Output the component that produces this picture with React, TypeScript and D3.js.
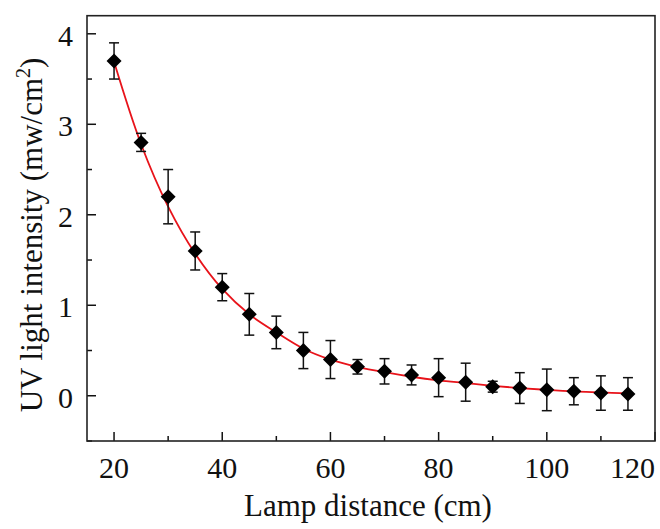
import React from "react";
import * as d3 from "d3";

const distance = [20, 25, 30, 35, 40, 45, 50, 55, 60, 65, 70, 75, 80, 85, 90, 95, 100, 105, 110, 115];
const intensity = [3.70, 2.80, 2.20, 1.60, 1.20, 0.90, 0.70, 0.50, 0.40, 0.32, 0.27, 0.23, 0.20, 0.15, 0.10, 0.085, 0.065, 0.05, 0.03, 0.02];
const errors = [0.20, 0.10, 0.30, 0.21, 0.15, 0.23, 0.18, 0.20, 0.21, 0.08, 0.14, 0.11, 0.21, 0.21, 0.06, 0.17, 0.23, 0.15, 0.19, 0.18];
const fitIntensity = [3.69, 2.78, 2.09, 1.57, 1.18, 0.90, 0.70, 0.52, 0.40, 0.32, 0.26, 0.21, 0.17, 0.14, 0.11, 0.085, 0.065, 0.048, 0.037, 0.026];

const xMajorTicks = [20, 40, 60, 80, 100, 120];
const xMinorTicks = [30, 50, 70, 90, 110];
const yMajorTicks = [0, 1, 2, 3, 4];
const yMinorTicks = [-0.5, 0.5, 1.5, 2.5, 3.5];

const W = 660, H = 529;
const left = 87, right = 655, top = 15.7, bottom = 441;
const FONT = "'Liberation Serif', 'Times New Roman', serif";

export default function App() {
  const x = d3.scaleLinear().domain([15, 120]).range([left, right]);
  const y = d3.scaleLinear().domain([-0.5, 4.2]).range([bottom, top]);

  const fitLine = d3
    .line<number>()
    .x((_, i) => x(distance[i]))
    .y((d) => y(d))
    .curve(d3.curveCatmullRom.alpha(0.5));

  const diamond = (cx: number, cy: number, r: number) =>
    `M${cx},${cy - r}L${cx + r},${cy}L${cx},${cy + r}L${cx - r},${cy}Z`;

  const majorLen = 9, minorLen = 5, cap = 5;

  return (
    <svg
      width={W}
      height={H}
      style={{ position: "absolute", left: 0, top: 0, background: "#fff" }}
      fontFamily={FONT}
    >
      <rect x={0} y={0} width={W} height={H} fill="#fff" />
      {xMajorTicks.map((t) => (
        <line key={"xM" + t} x1={x(t)} x2={x(t)} y1={bottom} y2={bottom - majorLen} stroke="#111" strokeWidth={1.5} />
      ))}
      {xMinorTicks.map((t) => (
        <line key={"xm" + t} x1={x(t)} x2={x(t)} y1={bottom} y2={bottom - minorLen} stroke="#111" strokeWidth={1.5} />
      ))}
      {yMajorTicks.map((t) => (
        <line key={"yM" + t} x1={left} x2={left + majorLen} y1={y(t)} y2={y(t)} stroke="#111" strokeWidth={1.5} />
      ))}
      {yMinorTicks.map((t) => (
        <line key={"ym" + t} x1={left} x2={left + minorLen} y1={y(t)} y2={y(t)} stroke="#111" strokeWidth={1.5} />
      ))}
      {xMajorTicks.map((t, i) => (
        <text
          key={"xl" + t}
          x={x(t)}
          y={478}
          fontSize={30}
          textAnchor={i === xMajorTicks.length - 1 ? "end" : "middle"}
          fill="#111"
        >
          {t}
        </text>
      ))}
      {yMajorTicks.map((t) => (
        <text key={"yl" + t} x={73} y={y(t) + 12} fontSize={30} textAnchor="end" fill="#111">
          {t}
        </text>
      ))}
      <path d={fitLine(fitIntensity) || ""} fill="none" stroke="#e8131a" strokeWidth={1.8} />
      {distance.map((d, i) => {
        const cx = x(d);
        const y1 = y(intensity[i] + errors[i]);
        const y2 = y(intensity[i] - errors[i]);
        return (
          <g key={"e" + d} stroke="#111" strokeWidth={1.5}>
            <line x1={cx} x2={cx} y1={y1} y2={y2} />
            <line x1={cx - cap} x2={cx + cap} y1={y1} y2={y1} />
            <line x1={cx - cap} x2={cx + cap} y1={y2} y2={y2} />
          </g>
        );
      })}
      {distance.map((d, i) => (
        <path key={"m" + d} d={diamond(x(d), y(intensity[i]), 7.5)} fill="#000" />
      ))}
      <rect x={left} y={top} width={right - left} height={bottom - top} fill="none" stroke="#222" strokeWidth={1.6} />
      <text x={368} y={516} fontSize={31} textAnchor="middle" fill="#111">
        Lamp distance (cm)
      </text>
      <text transform={`translate(42,235) rotate(-90)`} fontSize={31} textAnchor="middle" fill="#111">
        UV light intensity (mw/cm
        <tspan fontSize={20} dy={-12}>2</tspan>
        <tspan dy={12}>)</tspan>
      </text>
    </svg>
  );
}
